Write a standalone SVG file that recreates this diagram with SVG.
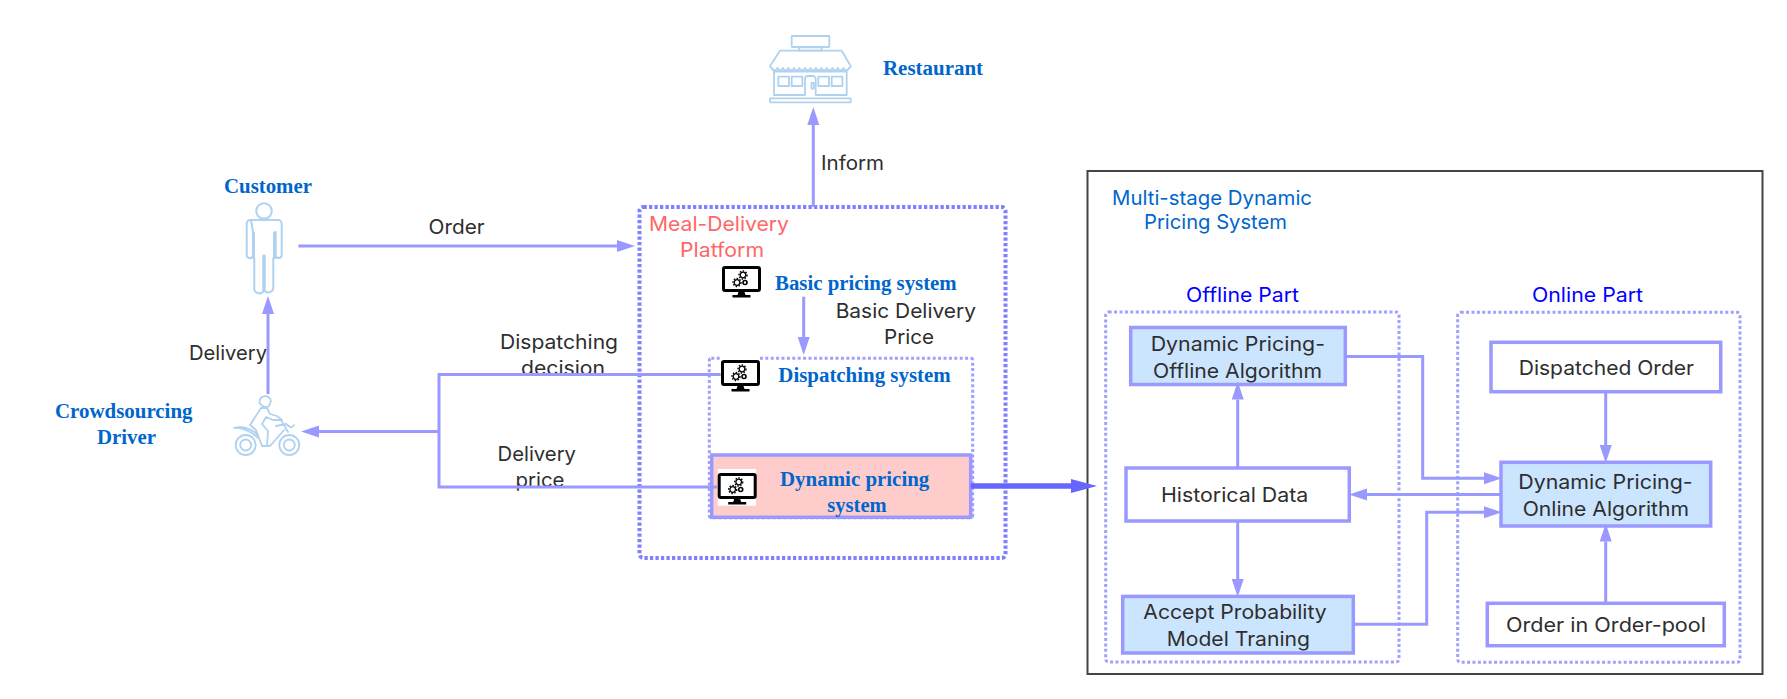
<svg xmlns="http://www.w3.org/2000/svg" xmlns:xlink="http://www.w3.org/1999/xlink" width="1787" height="699" viewBox="0 0 1787 699">
<style>
text{font-family:"Inter","Liberation Sans",sans-serif;font-size:20px;fill:#2e2e2e}
.s{font-family:"Liberation Serif","Times New Roman",serif;font-weight:bold;font-size:20.500px;fill:#0066cc}
.b{fill:#0066cc}.p{fill:#0000ff}.r{fill:#ff6666}
.line{fill:none;stroke:#9999ff;stroke-width:3}
.box{fill:#fff;stroke:#9999ff;stroke-width:3.500}
.blue{fill:#cce5ff}
.dot{fill:none;stroke:#a0a0ff;stroke-width:3;stroke-dasharray:3 2.400}
.ico{fill:none;stroke:#b0d2ee;stroke-width:2;stroke-linejoin:round;stroke-linecap:round}
</style>
<defs>
<marker id="a" markerUnits="userSpaceOnUse" markerWidth="18" markerHeight="12" refX="0" refY="6" orient="auto" overflow="visible"><path d="M0 0L18 6L0 12z" fill="#9999ff"/></marker>
<marker id="f" markerUnits="userSpaceOnUse" markerWidth="26" markerHeight="14" refX="0" refY="7" orient="auto" overflow="visible"><path d="M0 0L26 7L0 14z" fill="#6666ff"/></marker>
<g id="gear"><circle r="2.800" fill="none" stroke="#000" stroke-width="1.300"/><circle r="4" fill="none" stroke="#000" stroke-width="1.400" stroke-dasharray="1.500 1.500"/></g>
<g id="mon">
<rect x="1.500" y="1.500" width="36" height="23" rx="1.500" fill="#fff" stroke="#000" stroke-width="3"/>
<path d="M16.500 26h6l1 3h5v2.600h-18V29h5z" fill="#000"/>
<use xlink:href="#gear" href="#gear" x="21" y="9"/>
<use xlink:href="#gear" href="#gear" x="15" y="16.500"/>
<circle cx="23" cy="16.500" r="2" fill="none" stroke="#000" stroke-width="1.600"/>
</g>
</defs>

<g id="multi-stage-system">
<rect x="1087.500" y="171" width="675" height="503" fill="#fff" stroke="#444" stroke-width="2"/>
<text class="b" x="1112" y="204.500" textLength="200" lengthAdjust="spacingAndGlyphs">Multi-stage Dynamic</text>
<text class="b" x="1144" y="229" textLength="143" lengthAdjust="spacingAndGlyphs">Pricing System</text>
</g>
<g id="offline-part">
<rect class="dot" x="1105.700" y="312" width="293.300" height="350" rx="3"/>
<text class="p" x="1186" y="301.700" textLength="113" lengthAdjust="spacingAndGlyphs">Offline Part</text>
</g>
<g id="online-part">
<rect class="dot" x="1457.700" y="312.300" width="282.300" height="350" rx="3"/>
<text class="p" x="1532" y="301.700" textLength="111" lengthAdjust="spacingAndGlyphs">Online Part</text>
</g>

<g id="meal-platform">
<rect x="639.500" y="207" width="366" height="351" rx="4" fill="none" stroke="#7f7fff" stroke-width="4" stroke-dasharray="3.300 2.200"/>
<text class="r" x="649" y="230.700" textLength="140" lengthAdjust="spacingAndGlyphs">Meal-Delivery</text>
<text class="r" x="680" y="256.700" textLength="84" lengthAdjust="spacingAndGlyphs">Platform</text>
</g>
<g id="dispatching-system">
<rect class="dot" x="709.300" y="358.300" width="263.400" height="159.400" rx="2"/>
<rect x="721" y="356" width="39" height="36.500" fill="#fff"/>
<use xlink:href="#mon" href="#mon" x="721" y="360"/>
<text class="s" x="778.300" y="381.700" textLength="172.400" lengthAdjust="spacingAndGlyphs">Dispatching system</text>
</g>
<g id="basic-pricing-system">
<use xlink:href="#mon" href="#mon" x="722" y="266"/>
<text class="s" x="775" y="290" textLength="181.700" lengthAdjust="spacingAndGlyphs">Basic pricing system</text>
</g>
<g id="dynamic-pricing-system">
<rect x="711.700" y="455" width="259" height="62.300" fill="#ffcccc" stroke="#9999ff" stroke-width="3.500"/>
<rect x="717.700" y="469" width="38.300" height="36.700" fill="#fff"/>
<use xlink:href="#mon" href="#mon" x="717.700" y="473"/>
<text class="s" x="780" y="485.700" textLength="149.300" lengthAdjust="spacingAndGlyphs">Dynamic pricing</text>
<text class="s" x="827.300" y="511.700" textLength="59.400" lengthAdjust="spacingAndGlyphs">system</text>
</g>

<g id="restaurant">
<g class="ico" style="stroke-width:1.800">
<rect x="791.700" y="36" width="37.600" height="11" rx="0.500"/>
<rect x="799" y="47.300" width="22.700" height="3.400"/>
<path d="M780 50.700H841.700L850.700 66a1.800 1.800 0 0 1-1.800 2a2.800 2.800 0 0 1-5.500 0a2.800 2.800 0 0 1-5.500 0a2.800 2.800 0 0 1-5.500 0a2.800 2.800 0 0 1-5.500 0a2.800 2.800 0 0 1-5.500 0a2.800 2.800 0 0 1-5.500 0a2.800 2.800 0 0 1-5.500 0a2.800 2.800 0 0 1-5.500 0a2.800 2.800 0 0 1-5.500 0a2.800 2.800 0 0 1-5.500 0a2.800 2.800 0 0 1-5.500 0a2.800 2.800 0 0 1-5.500 0a2.800 2.800 0 0 1-5.500 0a2.800 2.800 0 0 1-5.500 0a1.800 1.800 0 0 1-1.800-2z"/>
<path d="M805 95H774V71.700H846.700V95H815.700V79a3 3 0 0 0-3-3H808a3 3 0 0 0-3 3z"/>
<rect x="778.300" y="76.700" width="10.700" height="9.300"/><rect x="791.700" y="76.700" width="10.700" height="9.300"/>
<rect x="818.300" y="76.700" width="10.700" height="9.300"/><rect x="831.700" y="76.700" width="10.700" height="9.300"/>
<rect x="811.500" y="83" width="2.400" height="5.500"/>
<rect x="770" y="98.300" width="80.700" height="4"/>
</g>
<text class="s" x="883" y="75" textLength="100" lengthAdjust="spacingAndGlyphs">Restaurant</text>
</g>

<g id="customer">
<g class="ico">
<circle cx="264" cy="211" r="7.800"/>
<path d="M251 220H278a3.700 3.700 0 0 1 3.700 3.700V255a3 3 0 0 1-6 0V232 M275.700 232V258L273.300 258V288a5 5 0 0 1-9.300 2a5 5 0 0 1-9.700-2V258L253 258V232 M253 232V255a3 3 0 0 1-6.300 0V223.700A3.700 3.700 0 0 1 251 220z"/>
<path d="M264 256V290" stroke-width="3.500"/>
<path d="M253.500 233V256M274.500 233V256" stroke-width="3"/>
</g>
<text class="s" x="224" y="192.500" textLength="88" lengthAdjust="spacingAndGlyphs">Customer</text>
</g>

<g id="driver">
<g class="ico" style="stroke-width:1.800">
<circle cx="245.700" cy="445" r="10"/><circle cx="245.700" cy="445" r="5.500"/>
<circle cx="289.300" cy="445" r="10"/><circle cx="289.300" cy="445" r="5.500"/>
<path d="M259.500 403a5.800 5.800 0 0 1 11.500-2l-2 5a6 6 0 0 1-7-.5z"/>
<path d="M261 408L250 425L256 430L262 446H267L268 431L262 424L266 417L273 420H282L277 416L270 414L267 408z"/>
<path d="M234 428Q245 425 256 433L258 438Q246 427 234 428z"/>
<path d="M281 420L288 432M276 426L286 424Q292 430 294 425"/>
<path d="M268 446H270L284 430"/>
</g>
<text class="s" x="55" y="417.700" textLength="137.500" lengthAdjust="spacingAndGlyphs">Crowdsourcing</text>
<text class="s" x="97" y="443.600" textLength="59" lengthAdjust="spacingAndGlyphs">Driver</text>
</g>

<g id="dynamic-pricing-offline">
<rect class="box blue" x="1130.700" y="327.500" width="214.600" height="57"/>
<text x="1150.700" y="351.300" textLength="174.300" lengthAdjust="spacingAndGlyphs">Dynamic Pricing-</text>
<text x="1153" y="377.600" textLength="169" lengthAdjust="spacingAndGlyphs">Offline Algorithm</text>
</g>
<g id="historical-data">
<rect class="box" x="1126" y="468" width="223.300" height="53"/>
<text x="1161" y="501.900" textLength="147.300" lengthAdjust="spacingAndGlyphs">Historical Data</text>
</g>
<g id="accept-probability">
<rect class="box blue" x="1122.700" y="596.400" width="230.600" height="56.600"/>
<text x="1143.300" y="619" textLength="183.400" lengthAdjust="spacingAndGlyphs">Accept Probability</text>
<text x="1166.700" y="645.500" textLength="143.300" lengthAdjust="spacingAndGlyphs">Model Traning</text>
</g>
<g id="dispatched-order">
<rect class="box" x="1491" y="342.300" width="229.700" height="49.400"/>
<text x="1518.700" y="375" textLength="175.300" lengthAdjust="spacingAndGlyphs">Dispatched Order</text>
</g>
<g id="dynamic-pricing-online">
<rect class="box blue" x="1501" y="462.300" width="209.700" height="63.700"/>
<text x="1518.300" y="489.300" textLength="174.400" lengthAdjust="spacingAndGlyphs">Dynamic Pricing-</text>
<text x="1522.700" y="515.700" textLength="166.300" lengthAdjust="spacingAndGlyphs">Online Algorithm</text>
</g>
<g id="order-pool">
<rect class="box" x="1487.300" y="603.300" width="237" height="42.400"/>
<text x="1506" y="632.300" textLength="200" lengthAdjust="spacingAndGlyphs">Order in Order-pool</text>
</g>

<g id="connector-labels">
<text x="428.600" y="234" textLength="56" lengthAdjust="spacingAndGlyphs">Order</text>
<text x="189" y="360" textLength="78" lengthAdjust="spacingAndGlyphs">Delivery</text>
<text x="500" y="349" textLength="118" lengthAdjust="spacingAndGlyphs">Dispatching</text>
<text x="521" y="374.500" textLength="84" lengthAdjust="spacingAndGlyphs">decision</text>
<text x="497.500" y="461.400" textLength="78.500" lengthAdjust="spacingAndGlyphs">Delivery</text>
<text x="515.500" y="487" textLength="49" lengthAdjust="spacingAndGlyphs">price</text>
<text x="821" y="170" textLength="63" lengthAdjust="spacingAndGlyphs">Inform</text>
<text x="835.700" y="318.300" textLength="140.300" lengthAdjust="spacingAndGlyphs">Basic Delivery</text>
<text x="884" y="344.300" textLength="50" lengthAdjust="spacingAndGlyphs">Price</text>
</g>

<g id="connectors">
<path class="line" d="M298.500 246H617" marker-end="url(#a)"/>
<path class="line" d="M268 394V314" marker-end="url(#a)"/>
<path class="line" d="M813.300 207V125" marker-end="url(#a)"/>
<path class="line" d="M803.700 296.700V337" marker-end="url(#a)"/>
<path class="line" d="M720.700 374.500H439V487H717"/>
<path class="line" d="M439 431.600H319" marker-end="url(#a)"/>
<path d="M970.700 486H1071" fill="none" stroke="#6666ff" stroke-width="5.500" marker-end="url(#f)"/>
<path class="line" d="M1237.700 468V399.500" marker-end="url(#a)"/>
<path class="line" d="M1237.700 521V579" marker-end="url(#a)"/>
<path class="line" d="M1345.300 356.500H1422.700V478.300H1484" marker-end="url(#a)"/>
<path class="line" d="M1501 494.400H1367" marker-end="url(#a)"/>
<path class="line" d="M1353.300 624.300H1426.700V512.300H1484" marker-end="url(#a)"/>
<path class="line" d="M1605.700 391.700V445" marker-end="url(#a)"/>
<path class="line" d="M1605.700 603.300V541.500" marker-end="url(#a)"/>
</g>
</svg>
